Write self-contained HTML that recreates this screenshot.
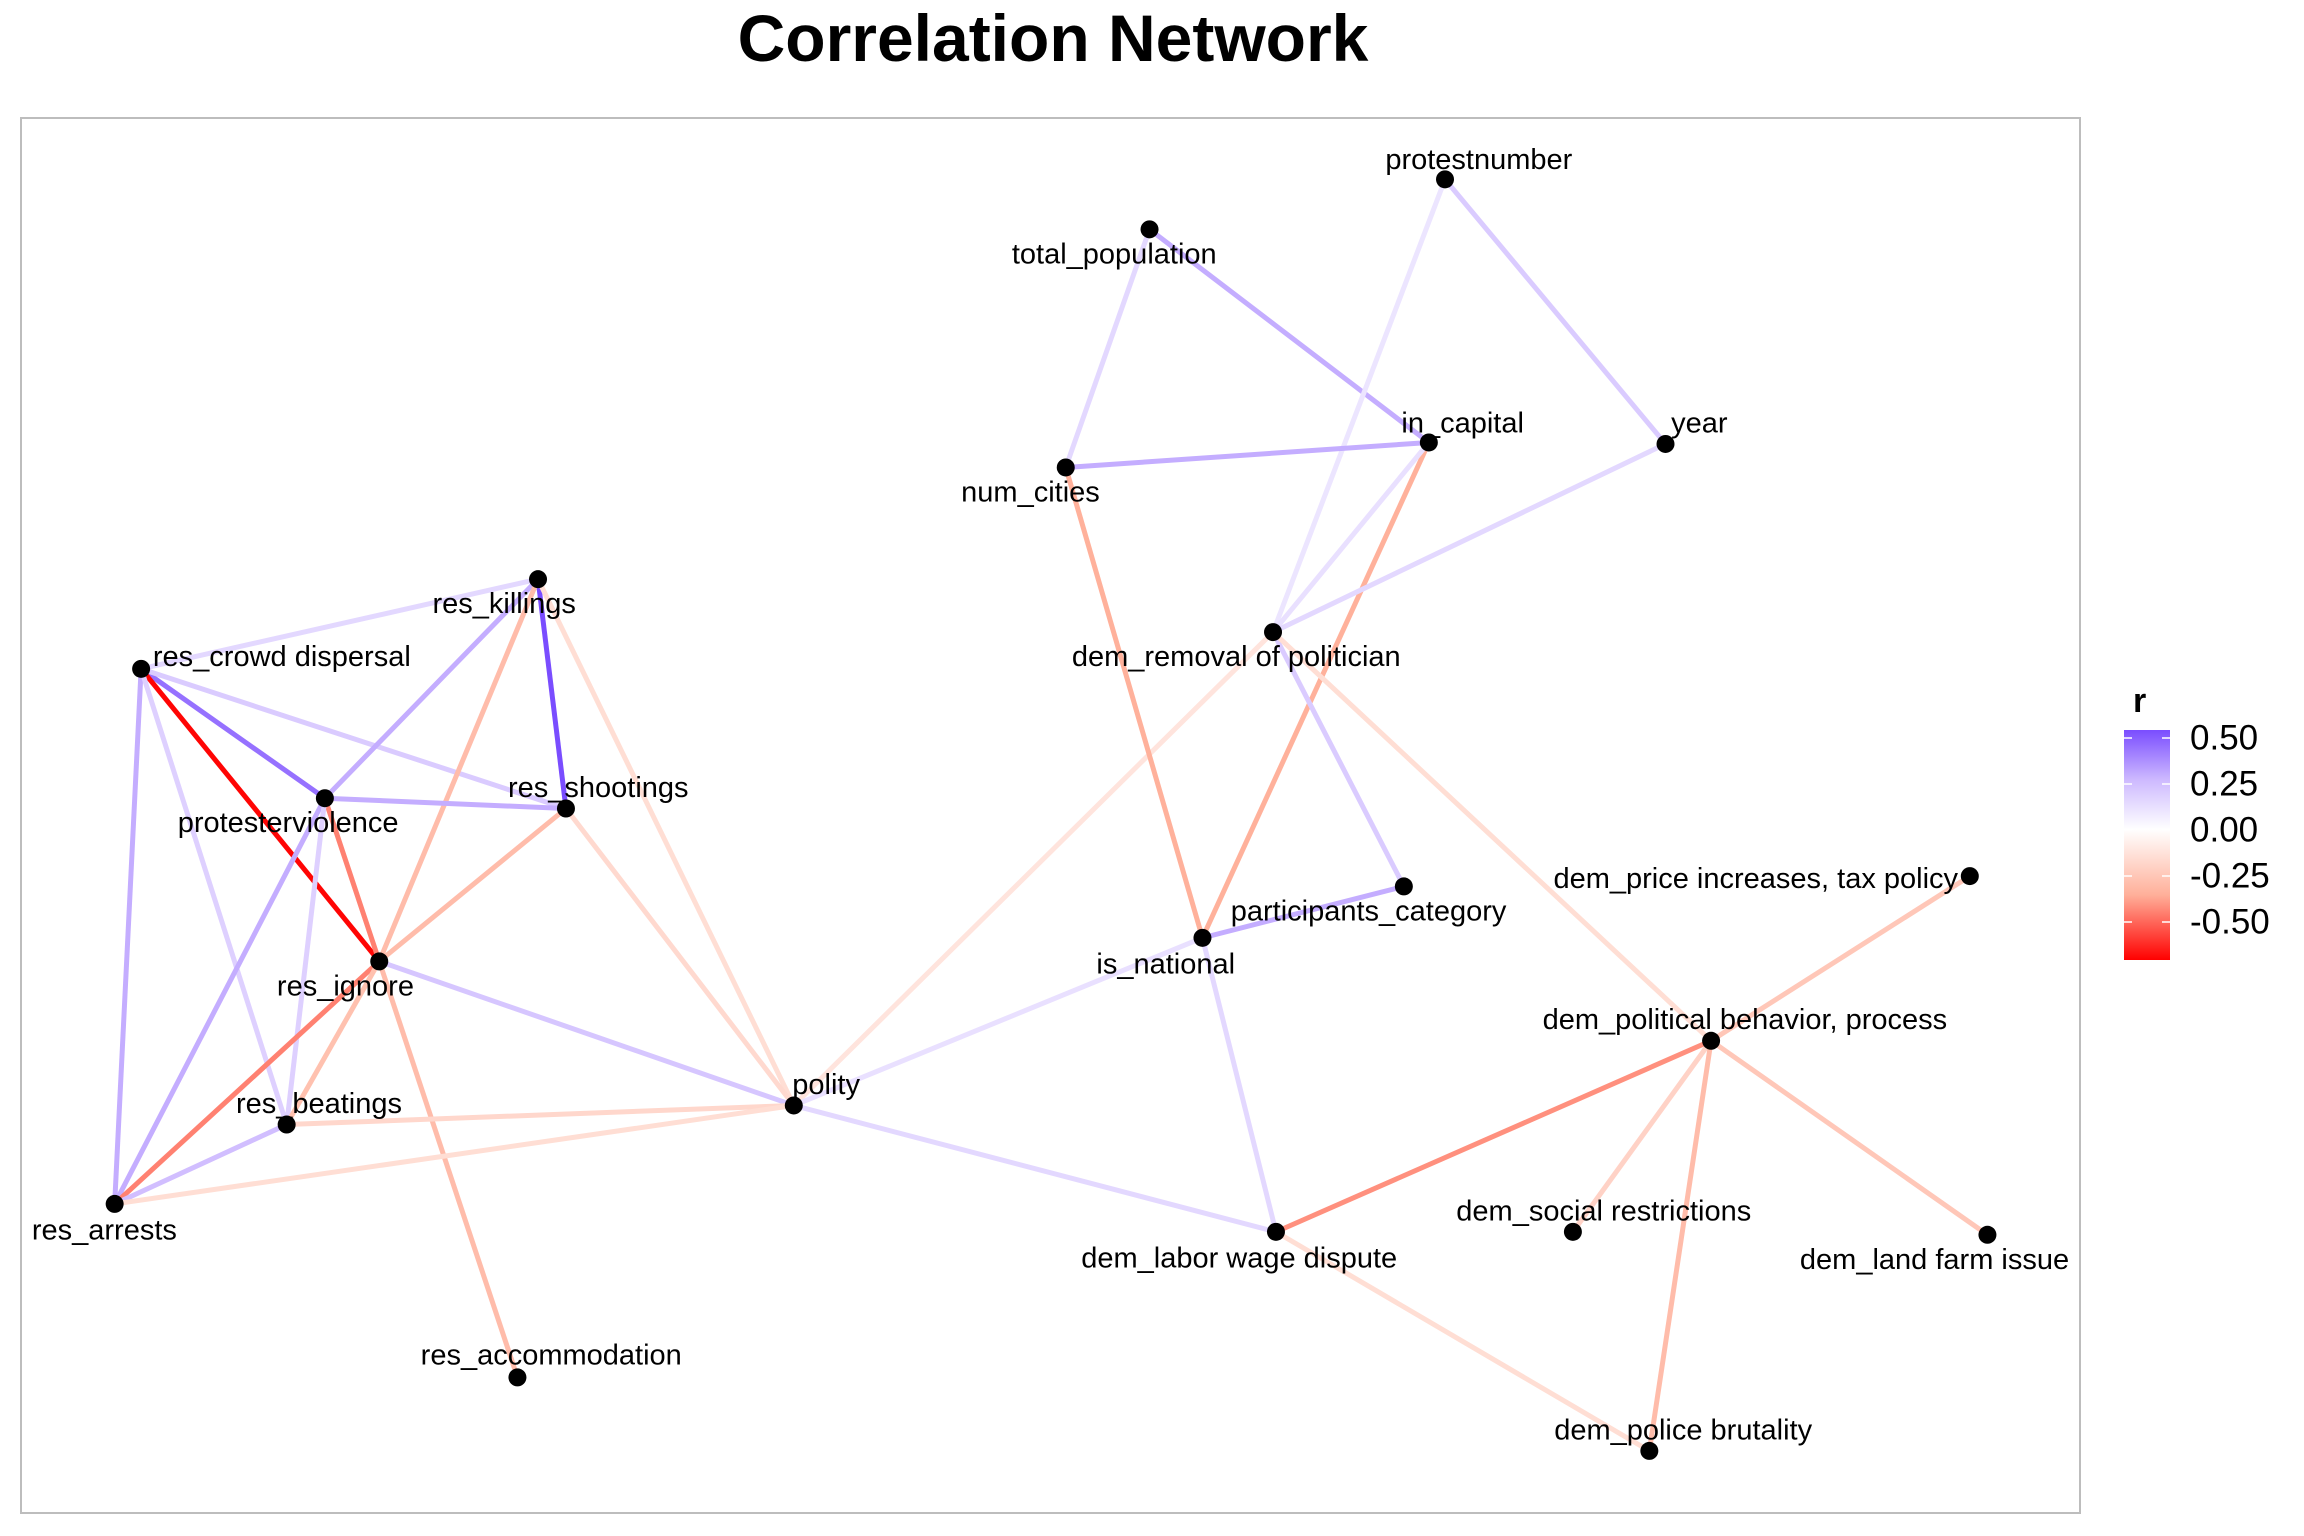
<!DOCTYPE html>
<html><head><meta charset="utf-8"><style>
html,body{margin:0;padding:0;background:#fff;}
svg{display:block;font-family:"Liberation Sans",Arial,sans-serif;}
</style></head><body>
<svg id="chart" width="2304" height="1536" viewBox="0 0 2304 1536">
<defs>
<linearGradient id="lg" x1="0" y1="0" x2="0" y2="1">
<stop offset="0" stop-color="#7a4dff"/>
<stop offset="0.216" stop-color="#cdb9ff"/>
<stop offset="0.432" stop-color="#ffffff"/>
<stop offset="0.716" stop-color="#ffb09a"/>
<stop offset="1" stop-color="#ff0000"/>
</linearGradient>
</defs>
<text x="1053" y="61" text-anchor="middle" font-size="66" font-weight="bold">Correlation Network</text>
<rect x="21" y="118" width="2059" height="1395" fill="none" stroke="#bdbdbd" stroke-width="2"/>
<g id="edges"></g>
<g id="nodes"></g>
<g>
<text x="2133" y="712" font-size="34" font-weight="bold">r</text>
<rect x="2124" y="730" width="46" height="230" fill="url(#lg)"/>
<g id="legend-ticks"></g>
</g>
</svg>
<script>
const nodeNames = ["res_killings","res_crowd dispersal","protesterviolence","res_shootings","res_ignore","res_beatings","res_arrests","res_accommodation","polity","total_population","protestnumber","year","in_capital","num_cities","dem_removal of politician","participants_category","is_national","dem_price increases, tax policy","dem_political behavior, process","dem_labor wage dispute","dem_social restrictions","dem_land farm issue","dem_police brutality"];
const nodeX = [366,96,221,385,258,195,78,352,540,782,983,1133,972,725,866,955,818,1340,1164,868,1070,1352,1122];
const nodeY = [394,455,543,550,654,765,819,937,752,156,122,302,301,318,430,603,638,596,708,838,838,840,987];
const edgeFrom = [1,1,1,1,1,1,0,0,0,0,2,2,2,2,3,3,4,4,4,4,5,5,6,8,8,8,9,9,10,10,13,13,12,12,11,14,14,15,16,17,18,18,18,18,19];
const edgeTo   = [0,2,4,3,6,5,3,2,4,8,3,4,6,5,4,8,6,5,8,7,6,8,8,14,16,19,13,12,14,11,12,16,16,14,14,15,18,16,19,18,19,20,21,22,22];
const edgeR    = [0.15,0.45,-0.7,0.2,0.3,0.18,0.55,0.3,-0.3,-0.15,0.3,-0.45,0.3,0.18,-0.3,-0.17,-0.45,-0.28,0.22,-0.3,0.25,-0.18,-0.15,-0.12,0.12,0.15,0.15,0.3,0.1,0.2,0.3,-0.35,-0.35,0.12,0.15,0.2,-0.15,0.3,0.15,-0.25,-0.42,-0.2,-0.25,-0.3,-0.15];
const legendValues = [0.5,0.25,0,-0.25,-0.5];
const legendLabels = ["0.50","0.25","0.00","-0.25","-0.50"];
const labelDX = [-23,8,-25,22,-23,22,-7,23,22,-24,23,23,23,-24,-25,-24,-25,-8,23,-25,21,-36,23];
const labelDY = [17,-8,17,-14,17,-14,18,-15,-14,17,-13,-14,-13,17,17,17,18,2,-14,18,-14,17,-14];
const labelAnchor = ["middle","start","middle","middle","middle","middle","middle","middle","middle","middle","middle","middle","middle","middle","middle","middle","middle","end","middle","middle","middle","middle","middle"];

const S = 1.470;
const sx = v => v * S;
const sy = v => v * S;
const RMAX = 0.54, RMIN = -0.71;
const legendY = r => 830 - r * 184;
function mix(a, b, t){return a.map((v,i)=>Math.round(v+(b[i]-v)*t));}
function ramp(stops, t){
  t = Math.max(0, Math.min(1, t));
  if (t <= 0.5) return mix(stops[0], stops[1], t/0.5);
  return mix(stops[1], stops[2], (t-0.5)/0.5);
}
function color(r){
  let c;
  if (r >= 0) c = ramp([[255,255,255],[205,185,255],[122,77,255]], r/RMAX);
  else c = ramp([[255,255,255],[255,176,154],[255,0,0]], -r/(-RMIN));
  return `rgb(${c[0]},${c[1]},${c[2]})`;
}
const NS = "http://www.w3.org/2000/svg";
const eg = document.getElementById("edges");
edgeFrom.forEach((f,i)=>{
  const t = edgeTo[i];
  const l = document.createElementNS(NS,"line");
  l.setAttribute("x1",sx(nodeX[f])); l.setAttribute("y1",sy(nodeY[f]));
  l.setAttribute("x2",sx(nodeX[t])); l.setAttribute("y2",sy(nodeY[t]));
  l.setAttribute("stroke",color(edgeR[i])); l.setAttribute("stroke-width","5");
  
  
  eg.appendChild(l);
});
const ng = document.getElementById("nodes");
nodeNames.forEach((n,i)=>{
  const c = document.createElementNS(NS,"circle");
  c.setAttribute("cx",sx(nodeX[i])); c.setAttribute("cy",sy(nodeY[i])); c.setAttribute("r","9");
  c.setAttribute("fill","#000");
  
  
  ng.appendChild(c);
  const tx = document.createElementNS(NS,"text");
  tx.setAttribute("x",sx(nodeX[i]+labelDX[i])); tx.setAttribute("y",sy(nodeY[i]+labelDY[i]));
  tx.setAttribute("text-anchor",labelAnchor[i]); tx.setAttribute("dominant-baseline","central");
  tx.setAttribute("font-size","29");
  tx.textContent = n;
  
  
  ng.appendChild(tx);
});
const lt = document.getElementById("legend-ticks");
legendValues.forEach((v,i)=>{
  const y = legendY(v);
  [[2124,2132],[2162,2170]].forEach(p=>{
    const l = document.createElementNS(NS,"line");
    l.setAttribute("x1",p[0]); l.setAttribute("x2",p[1]); l.setAttribute("y1",y); l.setAttribute("y2",y);
    l.setAttribute("stroke","#fff"); l.setAttribute("stroke-width","1.5");
    
    
    lt.appendChild(l);
  });
  const t = document.createElementNS(NS,"text");
  t.setAttribute("x",2190); t.setAttribute("y",y); t.setAttribute("dominant-baseline","central");
  t.setAttribute("font-size","35"); t.textContent = legendLabels[i];
  
  
  lt.appendChild(t);
});
</script>
</body></html>
